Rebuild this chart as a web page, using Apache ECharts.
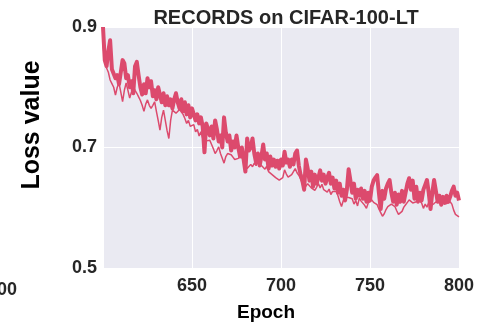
<!DOCTYPE html>
<html>
<head>
<meta charset="utf-8">
<script src="https://cdn.jsdelivr.net/npm/echarts@6/dist/echarts.min.js"></script>
<style>html,body{margin:0;padding:0;background:#fff}#c{width:500px;height:327px}</style>
</head>
<body>
<div id="c"></div>
<script>
// one value per epoch, epochs 600..800
const firstEpoch = 600;
const lossThick = [
0.900,0.845,0.835,0.860,0.878,0.830,0.830,0.815,0.820,0.805,
0.825,0.845,0.840,0.815,0.820,0.800,0.810,0.790,0.835,0.842,
0.820,0.800,0.788,0.805,0.790,0.815,0.800,0.810,0.785,0.795,
0.780,0.800,0.800,0.775,0.790,0.770,0.785,0.770,0.780,0.765,
0.780,0.790,0.775,0.765,0.780,0.760,0.775,0.755,0.770,0.750,
0.765,0.762,0.745,0.755,0.740,0.750,0.735,0.692,0.740,0.730,
0.720,0.735,0.715,0.745,0.730,0.710,0.720,0.700,0.750,0.725,
0.710,0.720,0.695,0.710,0.700,0.720,0.700,0.685,0.700,0.680,
0.660,0.715,0.695,0.700,0.715,0.690,0.675,0.690,0.670,0.685,
0.705,0.680,0.690,0.665,0.685,0.670,0.680,0.668,0.678,0.665,
0.680,0.670,0.693,0.675,0.680,0.668,0.680,0.672,0.690,0.695,
0.670,0.655,0.645,0.630,0.680,0.665,0.645,0.660,0.635,0.655,
0.640,0.650,0.662,0.645,0.655,0.640,0.650,0.658,0.640,0.650,
0.632,0.645,0.625,0.640,0.620,0.630,0.612,0.630,0.664,0.645,
0.625,0.640,0.615,0.630,0.620,0.632,0.615,0.628,0.610,0.625,
0.612,0.635,0.645,0.650,0.654,0.625,0.598,0.628,0.615,0.632,
0.640,0.646,0.625,0.610,0.625,0.605,0.622,0.610,0.628,0.610,
0.625,0.640,0.649,0.630,0.645,0.615,0.635,0.610,0.625,0.612,
0.630,0.638,0.646,0.625,0.598,0.625,0.646,0.628,0.610,0.620,
0.605,0.618,0.608,0.620,0.610,0.618,0.628,0.635,0.620,0.625,
0.612];
const lossThin = [
0.870,0.845,0.832,0.825,0.812,0.806,0.800,0.787,0.800,0.807,
0.792,0.776,0.795,0.807,0.795,0.782,0.792,0.801,0.795,0.790,
0.784,0.778,0.770,0.760,0.772,0.779,0.770,0.765,0.770,0.776,
0.760,0.745,0.729,0.750,0.762,0.745,0.728,0.715,0.745,0.762,
0.760,0.757,0.760,0.763,0.765,0.755,0.748,0.740,0.745,0.735,
0.732,0.738,0.726,0.730,0.719,0.726,0.716,0.720,0.711,0.714,
0.712,0.705,0.698,0.690,0.695,0.701,0.690,0.682,0.674,0.685,
0.690,0.693,0.688,0.684,0.680,0.679,0.682,0.686,0.685,0.680,
0.672,0.665,0.668,0.672,0.668,0.674,0.670,0.676,0.674,0.670,
0.672,0.664,0.669,0.660,0.663,0.655,0.657,0.650,0.652,0.646,
0.646,0.650,0.663,0.656,0.651,0.649,0.655,0.660,0.665,0.658,
0.654,0.648,0.640,0.632,0.636,0.640,0.638,0.633,0.630,0.629,
0.634,0.640,0.633,0.639,0.630,0.632,0.626,0.631,0.622,0.627,
0.628,0.627,0.620,0.610,0.602,0.612,0.618,0.621,0.617,0.614,
0.615,0.606,0.612,0.603,0.616,0.611,0.614,0.604,0.599,0.608,
0.611,0.613,0.609,0.606,0.605,0.598,0.592,0.586,0.590,0.597,
0.602,0.604,0.606,0.607,0.602,0.595,0.589,0.586,0.594,0.601,
0.605,0.609,0.613,0.610,0.608,0.607,0.610,0.614,0.616,0.608,
0.599,0.606,0.601,0.609,0.603,0.600,0.607,0.604,0.612,0.608,
0.611,0.609,0.607,0.607,0.609,0.610,0.606,0.596,0.589,0.586,
0.585];
const xTicks = [600, 650, 700, 750, 800];
const yTicks = [0.5, 0.7, 0.9];
const titleText = 'RECORDS on CIFAR-100-LT';
const xName = 'Epoch';
const yName = 'Loss value';

const color = '#dc4a6d';
const font = 'Liberation Sans, Arial, sans-serif';
const toPairs = arr => arr.map((v, i) => [firstEpoch + i, v]);
const chart = echarts.init(document.getElementById('c'), null, {renderer: 'canvas'});
chart.setOption({
  animation: false,
  backgroundColor: '#ffffff',
  title: {text: titleText, left: 281, top: 3, textAlign: 'center',
    textStyle: {fontFamily: font, fontWeight: 'bold', fontSize: 20, color: '#262626'}},
  grid: {left: 103, right: 41, top: 27, bottom: 59, show: true, backgroundColor: '#eaeaf2', borderWidth: 0},
  xAxis: {type: 'value', min: xTicks[0], max: xTicks[xTicks.length - 1], interval: 50,
    axisLine: {show: false}, axisTick: {show: false},
    splitLine: {show: true, lineStyle: {color: '#ffffff', width: 1}},
    axisLabel: {showMinLabel: false, margin: 9, fontFamily: font, fontWeight: 'bold', fontSize: 18, color: '#262626'}},
  yAxis: {type: 'value', min: yTicks[0], max: yTicks[yTicks.length - 1], interval: 0.2,
    axisLine: {show: false}, axisTick: {show: false},
    splitLine: {show: true, lineStyle: {color: '#ffffff', width: 1}},
    axisLabel: {margin: 6, fontFamily: font, fontWeight: 'bold', fontSize: 18, color: '#262626',
      formatter: v => v.toFixed(1)}},
  graphic: [
    {type: 'text', left: -13, top: 281, style: {text: String(xTicks[0]), font: 'bold 18px ' + font, fill: '#262626'}},
    {type: 'text', x: 266, y: 313, style: {text: xName, font: 'bold 19px ' + font, fill: '#000', align: 'center', verticalAlign: 'middle'}},
    {type: 'text', x: 32, y: 125, rotation: Math.PI / 2, style: {text: yName, font: 'bold 25px ' + font, fill: '#000', align: 'center', verticalAlign: 'middle'}}
  ],
  series: [
    {type: 'line', data: toPairs(lossThin), showSymbol: false, lineStyle: {color: color, width: 1.5}, itemStyle: {color: color}},
    {type: 'line', data: toPairs(lossThick), showSymbol: false, lineStyle: {color: color, width: 4, join: 'round'}, itemStyle: {color: color}}
  ]
});
</script>
</body>
</html>
